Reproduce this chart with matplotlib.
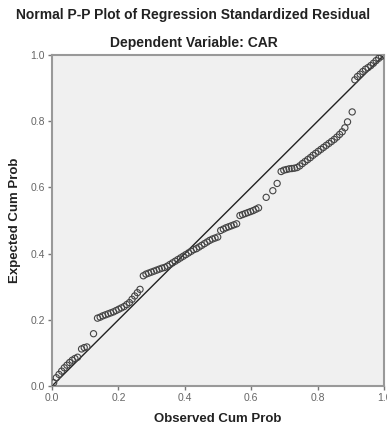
import matplotlib
matplotlib.use("Agg")
import matplotlib.pyplot as plt

# observed cum prob (x) / expected cum prob (y)
observed = [
    0.005, 0.013, 0.021, 0.029, 0.037, 0.045, 0.053, 0.061, 0.069, 0.077, 0.089, 0.097, 0.105, 0.125,
    0.137, 0.145, 0.153, 0.161, 0.169, 0.177, 0.185, 0.193, 0.201, 0.209, 0.217, 0.225, 0.233, 0.241,
    0.249, 0.257, 0.265,
    0.275, 0.283, 0.291, 0.299, 0.307, 0.315, 0.323, 0.331, 0.339, 0.347, 0.355, 0.363, 0.371, 0.379,
    0.387, 0.395, 0.403, 0.411, 0.419, 0.427,
    0.435, 0.443, 0.451, 0.459, 0.467, 0.475, 0.483, 0.491, 0.499,
    0.508, 0.516, 0.524, 0.532, 0.540, 0.548, 0.556,
    0.566, 0.574, 0.582, 0.590, 0.598, 0.606, 0.614, 0.622,
    0.645, 0.665, 0.678, 0.690, 0.698, 0.706, 0.714, 0.722, 0.730, 0.738, 0.746, 0.754, 0.762, 0.770,
    0.778, 0.786, 0.794, 0.802, 0.810, 0.818, 0.826, 0.834, 0.842, 0.850, 0.858, 0.866, 0.874, 0.882,
    0.890, 0.904,
    0.912, 0.920, 0.928, 0.936, 0.944, 0.952, 0.960, 0.968, 0.976, 0.984, 0.992, 1.000,
]
expected = [
    0.010, 0.025, 0.035, 0.045, 0.055, 0.063, 0.071, 0.078, 0.083, 0.087, 0.112, 0.116, 0.118, 0.158,
    0.205, 0.208, 0.212, 0.215, 0.218, 0.221, 0.224, 0.228, 0.232, 0.236, 0.240, 0.246, 0.252, 0.262,
    0.272, 0.282, 0.292,
    0.333, 0.338, 0.341, 0.344, 0.347, 0.350, 0.353, 0.356, 0.358, 0.362, 0.367, 0.372, 0.377, 0.382,
    0.387, 0.392, 0.397, 0.402, 0.407, 0.412,
    0.415, 0.420, 0.425, 0.430, 0.435, 0.440, 0.444, 0.447, 0.450,
    0.470, 0.474, 0.478, 0.481, 0.484, 0.487, 0.490,
    0.515, 0.518, 0.521, 0.524, 0.527, 0.530, 0.534, 0.538,
    0.570, 0.590, 0.612, 0.648, 0.652, 0.654, 0.656, 0.657, 0.658, 0.660, 0.665, 0.672, 0.678, 0.684,
    0.690, 0.697, 0.703, 0.709, 0.715, 0.721, 0.727, 0.733, 0.739, 0.745, 0.752, 0.760, 0.768, 0.780,
    0.798, 0.828,
    0.925, 0.935, 0.942, 0.950, 0.957, 0.962, 0.968, 0.975, 0.983, 0.990, 0.996, 1.000,
]
ref_line = [0.0, 1.0]
ticks = [0.0, 0.2, 0.4, 0.6, 0.8, 1.0]
tick_labels = ["0.0", "0.2", "0.4", "0.6", "0.8", "1.0"]

plt.rcParams["font.family"] = ["Liberation Sans", "DejaVu Sans"]

fig = plt.figure(figsize=(3.87, 4.28), dpi=100)
ax = fig.add_axes([0.1344, 0.0981, 0.858, 0.7734])
ax.set_facecolor("#f0f0f0")

ax.plot(ref_line, ref_line, color="#222222", lw=1.0, zorder=2)
ax.scatter(observed, expected, s=20, facecolors="none", edgecolors="#444444",
           linewidths=0.8, zorder=3)

ax.set_xlim(0, 1)
ax.set_ylim(0, 1)
ax.set_xticks(ticks)
ax.set_xticklabels(tick_labels)
ax.set_yticks(ticks)
ax.set_yticklabels(tick_labels)
ax.tick_params(length=3, width=1, color="#777777", labelcolor="#666666",
               labelsize=7.5, pad=2)
for sp in ax.spines.values():
    sp.set_color("#999999")
    sp.set_linewidth(1.5)

ax.set_xlabel("Observed Cum Prob", fontsize=9.5, fontweight="bold", color="#222222", labelpad=7)
ax.set_ylabel("Expected Cum Prob", fontsize=9.5, fontweight="bold", color="#222222", labelpad=7)

fig.text(0.5, 0.965, "Normal P-P Plot of Regression Standardized Residual",
         ha="center", va="center", fontsize=10, fontweight="bold", color="#222222")
fig.text(0.5, 0.9, "Dependent Variable: CAR",
         ha="center", va="center", fontsize=10, fontweight="bold", color="#222222")

fig.savefig("out.png", dpi=100, facecolor="white")
